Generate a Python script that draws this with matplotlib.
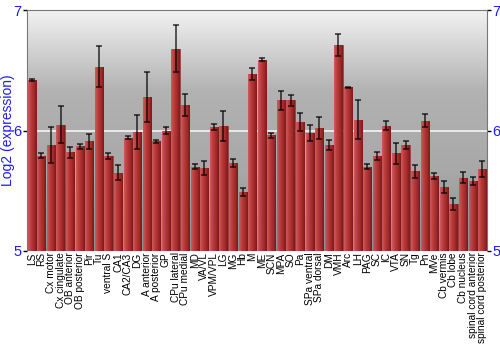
import numpy as np
import matplotlib
matplotlib.use("Agg")
import matplotlib.pyplot as plt
from matplotlib.colors import LinearSegmentedColormap

plt.rcParams["font.family"] = ["Liberation Sans", "DejaVu Sans"]

regions = ["LS", "RS", "Cx motor", "Cx cingulate", "OB anterior", "OB posterior",
           "Pir", "Tu", "ventral S", "CA1", "CA2/CA3", "DG", "A anterior",
           "A posterior", "GP", "CPu lateral", "CPu medial", "MD", "VA/VL",
           "VPM/VPL", "LG", "MG", "Hb", "M", "ME", "SCN", "MPA", "SO", "Pa",
           "SPa ventral", "SPa dorsal", "DM", "VMH", "Arc", "LH", "PAG", "SC",
           "IC", "VTA", "SN", "Tg", "Pn", "MVe", "Cb vermis", "Cb lobe",
           "Cb nucleus", "spinal cord anterior", "spinal cord posterior"]

expression = [6.42, 5.79, 5.88, 6.05, 5.82, 5.87, 5.91, 6.53, 5.79, 5.65,
              5.94, 5.99, 6.28, 5.91, 6.00, 6.68, 6.21, 5.70, 5.69, 6.03,
              6.04, 5.73, 5.49, 6.47, 6.59, 5.96, 6.25, 6.25, 6.07, 5.98,
              6.02, 5.88, 6.71, 6.36, 6.09, 5.70, 5.79, 6.04, 5.81, 5.88,
              5.66, 6.08, 5.62, 5.53, 5.39, 5.61, 5.58, 5.68]

errors = [0.01, 0.02, 0.15, 0.155, 0.047, 0.02, 0.062, 0.17, 0.026, 0.064,
          0.011, 0.14, 0.21, 0.015, 0.026, 0.195, 0.091, 0.02, 0.06, 0.022,
          0.125, 0.033, 0.032, 0.048, 0.014, 0.022, 0.076, 0.043, 0.076, 0.068,
          0.093, 0.044, 0.091, 0.005, 0.16, 0.02, 0.035, 0.037, 0.086, 0.033,
          0.053, 0.054, 0.025, 0.05, 0.05, 0.044, 0.032, 0.065]

blue = "#1a1aff"

fig = plt.figure(figsize=(5, 3.5), dpi=100)
ax = fig.add_axes([0.054, 0.283, 0.92, 0.688])

n = len(regions)
x = np.arange(n)
ax.set_xlim(-0.5, n - 0.5)
ax.set_ylim(5, 7)

# background: vertical grey gradient
bg = LinearSegmentedColormap.from_list("bg", ["#8f8f8f", "#a8a8a8", "#b2b2b2", "#f2f2f2"])
grad = np.linspace(0, 1, 256).reshape(-1, 1)
ax.imshow(grad, cmap=bg, aspect="auto", origin="lower",
          extent=[-0.5, n - 0.5, 5, 7], zorder=0)
ax.axhline(6, color="#f4f4f4", lw=1.2, zorder=1)

# bars with horizontal shading
bar_cmap = LinearSegmentedColormap.from_list("bar", ["#cc5c5c", "#bb3c3c", "#a52c2c", "#7a1a1a"])
hgrad = np.linspace(0, 1, 64).reshape(1, -1)
bars = ax.bar(x, np.array(expression) - 5, bottom=5, width=0.86,
              color="#b03434", edgecolor="#8a2a2a", lw=0.4, zorder=2)
for b in bars:
    x0, w = b.get_x(), b.get_width()
    im = ax.imshow(hgrad, cmap=bar_cmap, aspect="auto",
                   extent=[x0, x0 + w, 5, 5 + b.get_height()], zorder=2.5)
    im.set_clip_path(b)

ax.errorbar(x, expression, yerr=errors, fmt="none", ecolor="black",
            elinewidth=1.1, capsize=2.5, capthick=1.1, alpha=0.8, zorder=3)

ax.set_xticks(x)
ax.set_xticklabels(regions, rotation=90, fontsize=7.3)
ax.tick_params(axis="x", length=0, pad=1)
ax.set_yticks([5, 6, 7])
ax.tick_params(axis="y", colors="black", labelcolor=blue, labelsize=10.5,
               length=3, width=1, right=True, labelright=True, pad=1)
ax.set_ylabel("Log2 (expression)", color=blue, fontsize=10)
ax.yaxis.set_label_coords(-0.027, 0.5)

for side in ["left", "right", "top"]:
    ax.spines[side].set_color("#777777")
ax.spines["bottom"].set_visible(False)

fig.savefig("out.png", dpi=100)
